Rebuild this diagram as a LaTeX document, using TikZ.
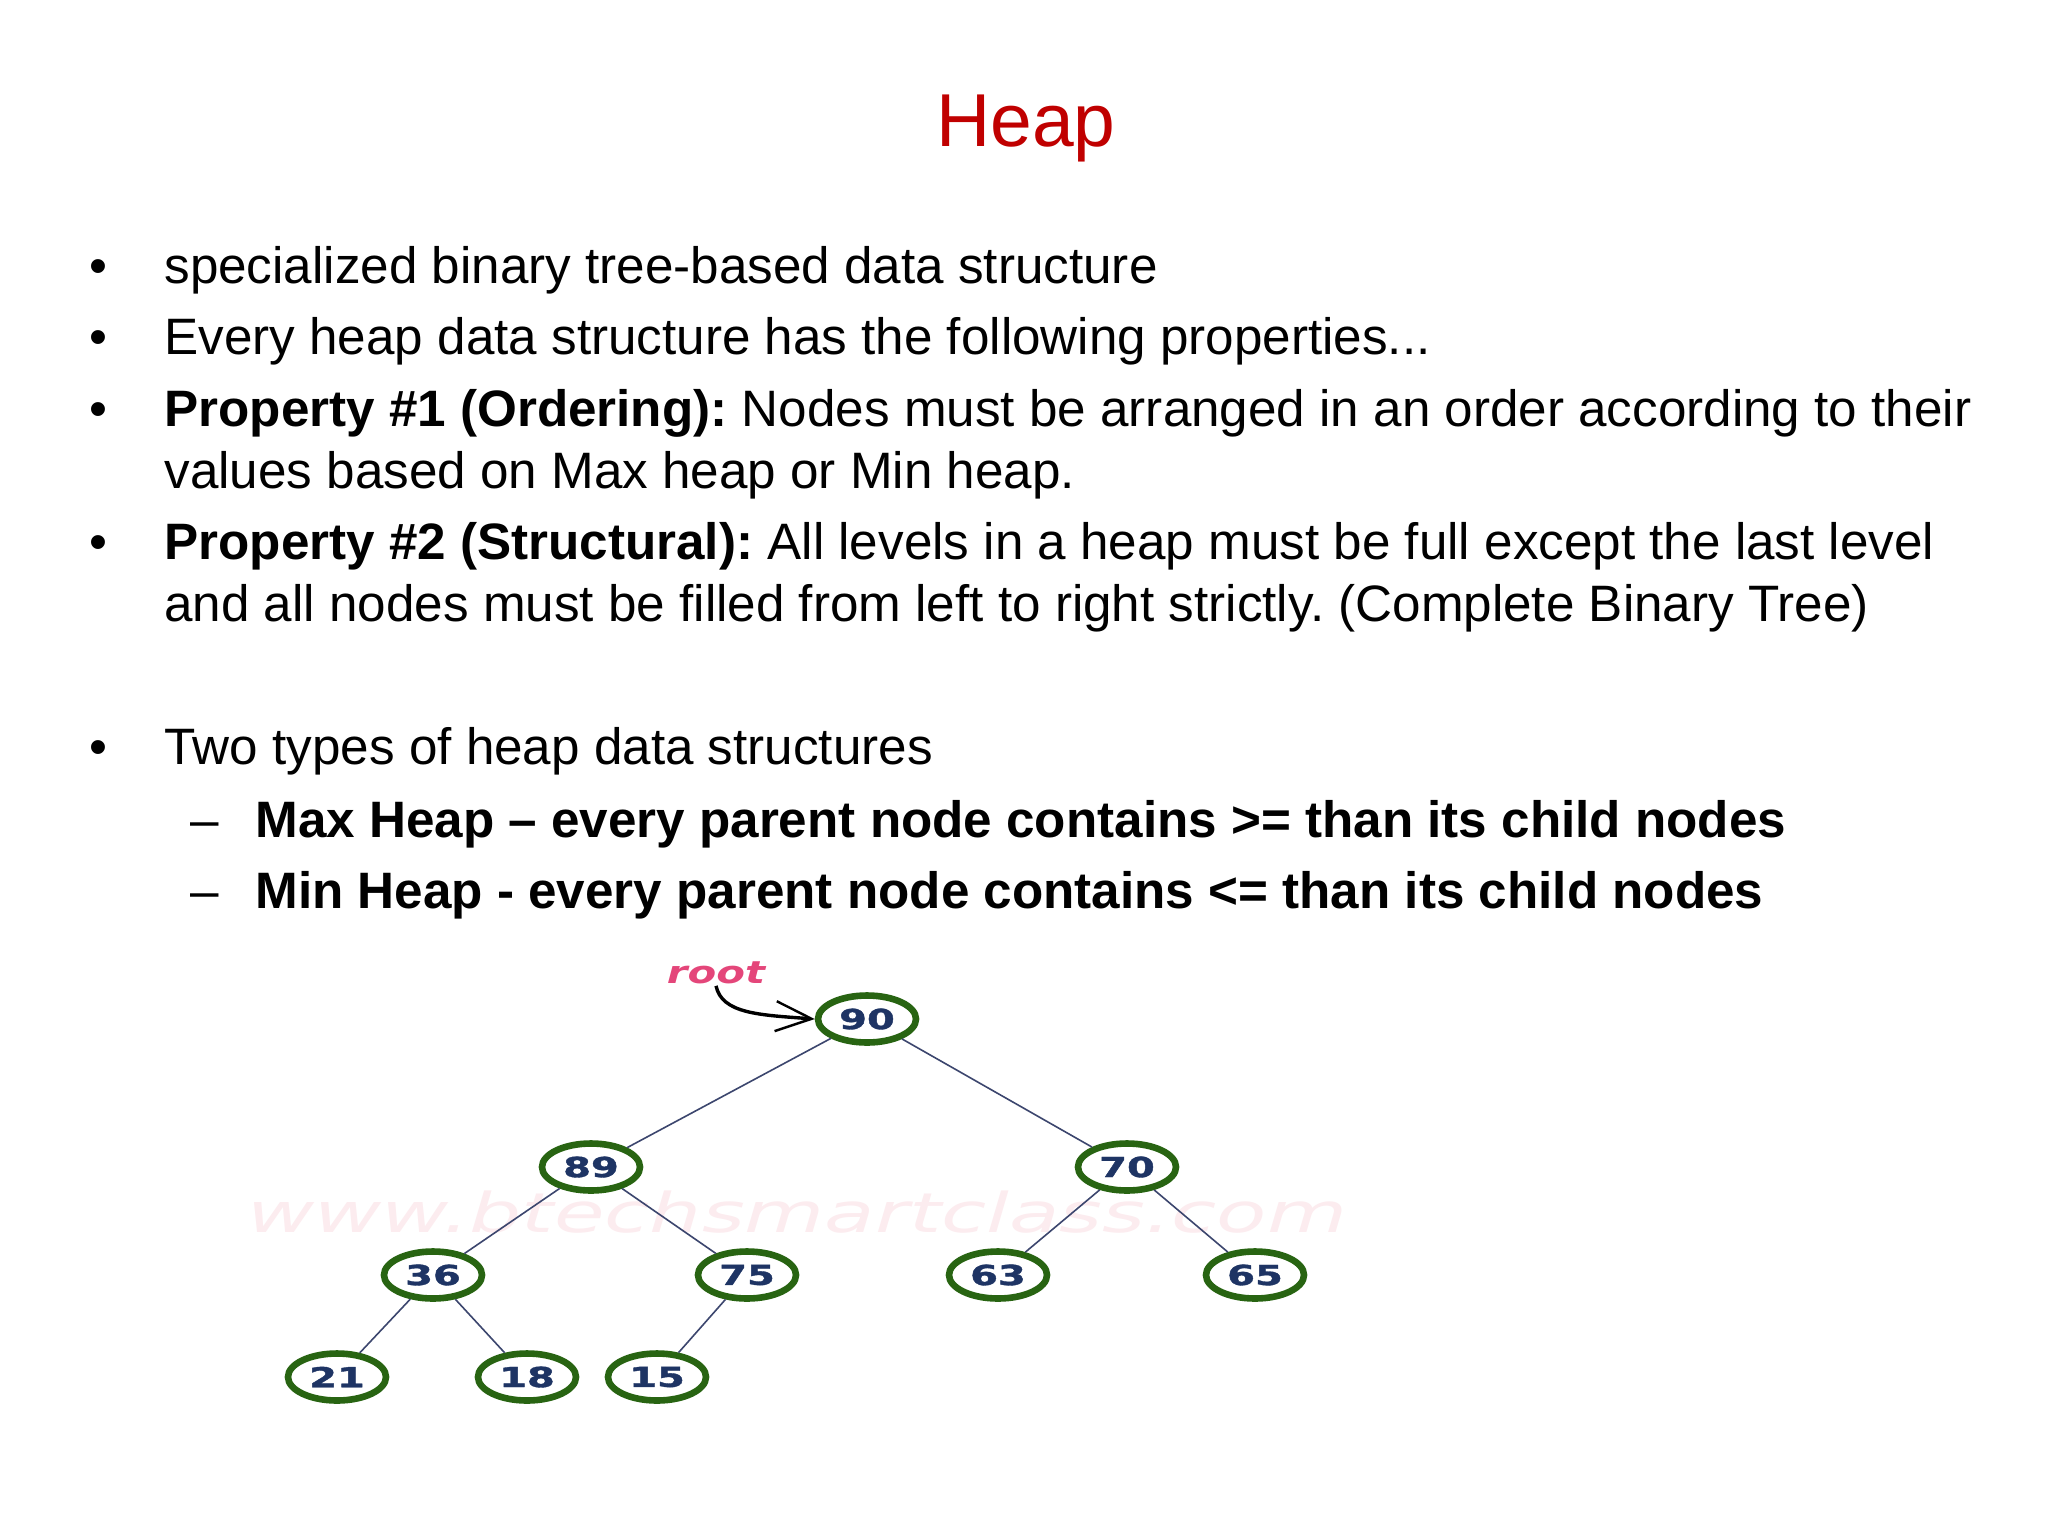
\documentclass[tikz,border=0pt]{standalone}
\usepackage{fontspec}
\setmainfont{Liberation Sans}
\newfontfamily\numfont{DejaVu Sans Bold}[FakeBold=1.2]
\newfontfamily\wmfont{DejaVu Sans}
\usepackage{graphicx}
\usetikzlibrary{arrows.meta,shapes.geometric}
\definecolor{titlered}{RGB}{192,0,0}
\definecolor{heapgreen}{RGB}{40,100,18}
\definecolor{heapnavy}{RGB}{30,52,100}
\definecolor{treeline}{RGB}{60,70,110}
\definecolor{rootpink}{RGB}{228,70,122}
\definecolor{wmpink}{RGB}{252,236,239}
\newcommand\bodyfont{\fontsize{25.6}{30}\selectfont}
\frenchspacing
\begin{document}
\begin{tikzpicture}[x=0.5pt,y=-0.5pt,
  txt/.style={anchor=base west,inner sep=0pt,font=\bodyfont},
  bul/.style={anchor=base,inner sep=0pt,font=\bodyfont},
  hnode/.style={ellipse,draw=heapgreen,line width=3.3pt,minimum width=49pt,minimum height=23.5pt,inner sep=0pt,text=heapnavy,font=\numfont\fontsize{13.8}{15}\selectfont},
  treelink/.style={draw=treeline,line width=0.8pt},
  rootarrow/.style={draw=black,line width=1.7pt,-{Straight Barb[length=18pt,width=15pt,line width=1.2pt]}}]
\useasboundingbox[fill=white] (0,0) rectangle (2048,1536);

% title
\node[anchor=base,inner sep=0pt,text=titlered,font=\fontsize{37.5}{45}\selectfont] (title) at (1026,147) {Heap};

% bullets
\node[bul] (b1) at (98,283) {•};
\node[bul] (b2) at (98,354) {•};
\node[bul] (b3) at (98,426) {•};
\node[bul] (b4) at (98,559) {•};
\node[bul] (b5) at (98,764) {•};
\node[bul] (d1) at (205,837) {–};
\node[bul] (d2) at (205,908) {–};

% text lines
\node[txt] (t1) at (164,283) {specialized binary tree-based data structure};
\node[txt] (t2) at (164,354) {Every heap data structure has the following properties...};
\node[txt] (t3) at (164,426) {\textbf{Property \#1 (Ordering):} Nodes must be arranged in an order according to their};
\node[txt] (t4) at (164,488) {values based on Max heap or Min heap.};
\node[txt] (t5) at (164,559) {\textbf{Property \#2 (Structural):} All levels in a heap must be full except the last level};
\node[txt] (t6) at (164,621) {and all nodes must be filled from left to right strictly. (Complete Binary Tree)};
\node[txt] (t7) at (164,764) {Two types of heap data structures};
\node[txt] (t8) at (255,837) {\textbf{Max Heap – every parent node contains >= than its child nodes}};
\node[txt] (t9) at (255,908) {\textbf{Min Heap - every parent node contains <= than its child nodes}};

% watermark
\node[inner sep=0pt,text=wmpink,font=\wmfont\itshape\fontsize{27.4}{30}\selectfont] (wm) at (797,1212) {\scalebox{1.5}[1]{www.btechsmartclass.com}};

% tree
\node[hnode] (n90) at (867,1019) {\scalebox{1.45}[1]{90}};
\node[hnode] (n89) at (591,1167) {\scalebox{1.45}[1]{89}};
\node[hnode] (n70) at (1127,1167) {\scalebox{1.45}[1]{70}};
\node[hnode] (n36) at (433,1275) {\scalebox{1.45}[1]{36}};
\node[hnode] (n75) at (747,1275) {\scalebox{1.45}[1]{75}};
\node[hnode] (n63) at (998,1275) {\scalebox{1.45}[1]{63}};
\node[hnode] (n65) at (1255,1275) {\scalebox{1.45}[1]{65}};
\node[hnode] (n21) at (337,1377) {\scalebox{1.45}[1]{21}};
\node[hnode] (n18) at (527,1377) {\scalebox{1.45}[1]{18}};
\node[hnode] (n15) at (657,1377) {\scalebox{1.45}[1]{15}};

\draw[treelink] (n90) -- (n89);
\draw[treelink] (n90) -- (n70);
\draw[treelink] (n89) -- (n36);
\draw[treelink] (n89) -- (n75);
\draw[treelink] (n70) -- (n63);
\draw[treelink] (n70) -- (n65);
\draw[treelink] (n36) -- (n21);
\draw[treelink] (n36) -- (n18);
\draw[treelink] (n75) -- (n15);

% root label
\node[anchor=base,inner sep=0pt,text=rootpink,font=\wmfont\bfseries\itshape\fontsize{15.5}{18}\selectfont] (root) at (716,983) {\scalebox{1.35}[1]{root}};
\draw[rootarrow] ([yshift=-1pt]root.south) .. controls +(6,28) and +(-55,-4) .. (n90.west);
\end{tikzpicture}
\end{document}
